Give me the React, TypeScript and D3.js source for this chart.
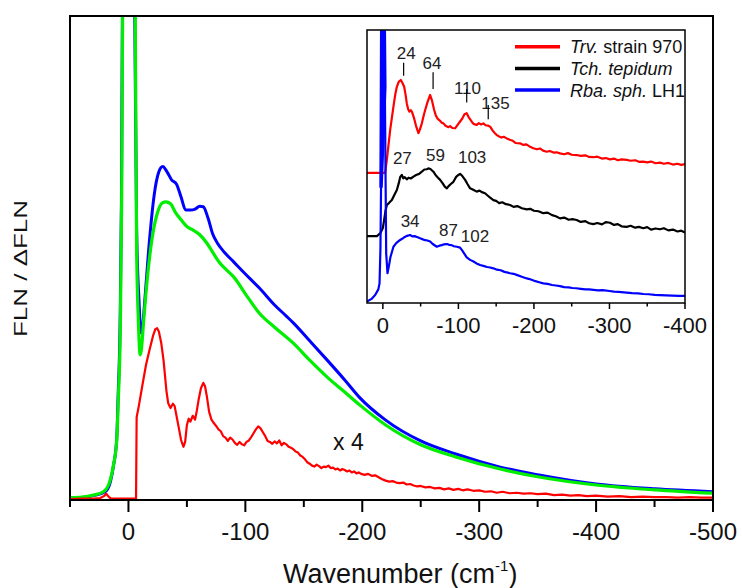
import React from "react";
import * as d3 from "d3";

type P = [number, number];

// ---------- main panel data (wavenumber, intensity in arbitrary units 0..100) ----------
const greenMain: P[] = [
  [50, 0.5], [40, 0.6], [30, 1.0], [21.5, 1.7], [17, 3.1], [13, 7.0], [10, 12.4], [8.7, 20.7], [7, 35], [5.8, 62], [5, 100], [3, 150], [0, 200],
  [-3, 160], [-4.8, 120], [-5.8, 100], [-7, 51.6], [-8.5, 37], [-10, 30], [-11, 31], [-13, 37], [-16, 45.5], [-20, 53.7], [-25, 59.5],
  [-29, 61.4], [-32, 61.6], [-36, 61.2], [-40, 59.5], [-45, 57.9], [-50, 56.5], [-55, 55.8], [-61, 54.8], [-67, 53.1], [-72, 51.2],
  [-78, 49], [-84, 47.5], [-90, 46.1], [-100, 42.6], [-112, 38.6], [-125, 35.7], [-141, 32.4], [-155, 28.9], [-170, 25.4], [-185, 22.3],
  [-198, 19.6], [-220, 15.5], [-250, 11.4], [-280, 8.9], [-318, 6.4], [-350, 4.8], [-400, 3.1], [-450, 2.1], [-500, 1.4],
];

const blueMain: P[] = [
  [50, 0.4], [40, 0.5], [30, 0.9], [20, 1.7], [16, 3.3], [13, 6.8], [10, 12.8], [8.9, 21], [7.2, 36], [6, 62], [5.2, 100], [3, 150], [0, 200],
  [-3, 160], [-4.5, 120], [-5.4, 100], [-7, 55.8], [-9, 41.3], [-10.8, 34.5], [-12, 35.5], [-14, 41.3], [-18, 53.7], [-22, 63], [-26, 67.8],
  [-29.3, 68.9], [-33, 67.8], [-37, 66.1], [-41, 65.3], [-45, 62.6], [-49, 59.9], [-53, 59.9], [-57, 60.1], [-61, 60.7], [-64, 60.6],
  [-68, 58.3], [-72, 55], [-76, 53.1], [-82, 51.2], [-90, 49.2], [-100, 46.7], [-112, 43.8], [-125, 40.3], [-135, 38], [-141, 36.6],
  [-155, 32.9], [-170, 28.9], [-185, 24.8], [-198, 21.1], [-220, 16.5], [-250, 12.2], [-280, 9.5], [-318, 6.8], [-350, 5.2], [-400, 3.3],
  [-450, 2.3], [-500, 1.7],
];

const redMain: P[] = [
  [50, 0.2], [40, 0.3], [30, 0.3], [24, 0.4], [21, 0.8], [19, 1.3], [17, 0.7], [15, 0.3], [5, 0.3], [-6.5, 0.3], [-7, 17.1], [-9, 19.6],
  [-12, 23.8], [-15, 27.9], [-18, 31], [-21, 33.9], [-23, 35.3], [-24.5, 35.5], [-26, 34.8], [-28, 32.5], [-30, 28.9], [-32.5, 22.5],
  [-34, 20], [-36, 19], [-38, 19.9], [-39.5, 19.4], [-41, 17.5], [-43, 15], [-45, 12.4], [-47, 11], [-48.5, 12], [-50, 15.5], [-51.5, 16.8],
  [-53, 16.2], [-55, 17.4], [-57, 16.6], [-58.5, 18.5], [-60, 20.7], [-62, 23.1], [-64, 24.2], [-65.5, 23.5], [-67, 21.5], [-69, 18.2],
  [-71, 16.6], [-73, 15.9], [-75, 15.3], [-77, 14.6], [-79, 14.2], [-81, 13.2], [-83, 12.9], [-85, 12.2], [-87, 12.9], [-89, 12.5],
  [-91, 11.8], [-93, 11.4], [-95, 12.0], [-97, 11.5], [-99, 11.3], [-101, 12.0], [-103, 12.3], [-105, 13.0], [-107, 13.8], [-109, 14.6],
  [-111, 15.2], [-113, 14.8], [-115, 14.0], [-117, 13.2], [-119, 12.2], [-121, 12.0], [-123, 11.6], [-125, 12.1], [-127, 11.7],
  [-129, 12.3], [-131, 11.3], [-133, 11.8], [-135, 11.5], [-137, 11.0], [-139, 10.8], [-141, 10.5], [-143, 10.0], [-145, 9.8],
  [-147, 9.2], [-149, 8.9], [-151, 8.4], [-153, 7.8], [-155, 7.5], [-157, 7.1], [-159, 6.9], [-161, 7.3], [-163, 7.0], [-165, 6.6],
  [-167, 6.9], [-169, 6.8], [-171, 7.1], [-173, 6.6], [-175, 6.7], [-177, 6.3], [-179, 6.5], [-181, 6.1], [-183, 6.4], [-185, 6.2],
  [-187, 5.9], [-189, 6.1], [-191, 5.7], [-193, 5.9], [-195, 5.5], [-197, 5.7], [-199, 5.4], [-202, 5.2], [-205, 5.4], [-208, 5.0],
  [-211, 5.1], [-214, 4.7], [-217, 4.3], [-220, 4.0], [-223, 3.8], [-226, 3.9], [-229, 3.6], [-232, 3.5], [-235, 3.6], [-238, 3.2],
  [-241, 3.3], [-244, 3.0], [-247, 2.8], [-250, 2.9], [-254, 2.6], [-258, 2.7], [-262, 2.4], [-266, 2.5], [-270, 2.2], [-274, 2.4],
  [-278, 2.1], [-282, 2.3], [-286, 2.0], [-290, 2.2], [-295, 1.9], [-300, 2.0], [-305, 1.7], [-310, 1.8], [-315, 1.5], [-320, 1.7],
  [-326, 1.4], [-332, 1.5], [-338, 1.3], [-344, 1.4], [-350, 1.2], [-357, 1.3], [-364, 1.0], [-371, 1.1], [-378, 0.9], [-385, 1.0],
  [-392, 0.8], [-400, 0.9], [-410, 0.7], [-420, 0.8], [-430, 0.6], [-440, 0.7], [-450, 0.6], [-460, 0.6], [-470, 0.5], [-480, 0.6],
  [-490, 0.5], [-500, 0.5],
];

const mainMajorTicks = [0, -100, -200, -300, -400, -500];
const mainMinorTicks = [50, -50, -150, -250, -350, -450];

// ---------- inset data ----------
const redInset: P[] = [
  [21, 47.7], [10, 47.7], [0, 47.7], [-3, 47.7], [-5.3, 52.4], [-7.5, 58], [-9.7, 63.4], [-12, 68], [-14, 71.9], [-16.5, 76.5],
  [-18.5, 79.2], [-21, 81], [-23.8, 81.7], [-26, 80.6], [-28.2, 79.2], [-30, 76.4], [-31.7, 73.1], [-33.5, 71], [-35.2, 70.1],
  [-37, 70.6], [-38.4, 70.1], [-40, 68.8], [-41.4, 67.6], [-44, 64.8], [-47.1, 62.2], [-49, 63.5], [-51.6, 65.8], [-54, 68.6],
  [-56, 70.7], [-59, 73.5], [-62.6, 76.2], [-65, 74.2], [-67.9, 70.7], [-70, 68.8], [-72.3, 67.6], [-75, 66.9], [-78, 66.0],
  [-80.2, 65.8], [-83, 64.9], [-86.8, 64.4], [-89, 64.8], [-92, 64.1], [-95.6, 64], [-98, 64.9], [-102, 66.4], [-105, 67.5],
  [-108, 69.1], [-111, 69.5], [-114, 67.9], [-117.7, 66.4], [-120, 65.6], [-124.3, 65.2], [-127, 65.9], [-130, 65.4], [-133, 65.8],
  [-136, 65.1], [-139, 65.0], [-142, 64.6], [-145, 63.3], [-148, 62.3], [-150.8, 61.5], [-154, 61.0], [-157, 60.6], [-160, 60.9],
  [-164, 60.3], [-168, 59.8], [-172, 59.4], [-176, 58.6], [-181.6, 58.5], [-186, 57.9], [-190, 58.1], [-195, 57.2], [-199.2, 56.7],
  [-204, 56.3], [-208, 56.6], [-212, 55.8], [-216.9, 55.4], [-221, 55.7], [-226, 55.1], [-230, 55.2], [-234.5, 54.8], [-240, 54.5],
  [-245, 54.9], [-250, 54.3], [-256.6, 54.2], [-262, 53.9], [-268, 54.1], [-273, 53.5], [-278.6, 53.4], [-284, 53.6], [-290, 52.9],
  [-295, 53.1], [-300.7, 52.6], [-306, 52.9], [-311, 52.3], [-316, 52.6], [-322.8, 52.4], [-328, 52.1], [-334, 52.3], [-339, 51.7],
  [-344.7, 51.8], [-350, 51.5], [-355, 51.8], [-361, 51.2], [-366.8, 51.4], [-372, 51.0], [-378, 51.3], [-384, 50.7], [-390, 51.0],
  [-395, 50.6], [-400, 50.9],
];

const blackInset: P[] = [
  [21, 24.5], [12, 24.5], [7.9, 24.5], [3.6, 25.5], [0, 27.5], [-1.7, 30.4], [-3.5, 33.8], [-5.3, 35.9], [-8, 36.6], [-11.9, 37.7],
  [-15, 39.5], [-18.5, 41.4], [-21, 43.8], [-23, 46.2], [-25.1, 46.9], [-27, 45.7], [-29, 46.1], [-31.7, 45.3], [-34, 45.9],
  [-37, 45.6], [-40.5, 46.3], [-44, 46.9], [-48, 47.3], [-51.6, 48.1], [-55, 48.9], [-58, 49.0], [-60.3, 49.3], [-63, 49.1],
  [-66.9, 48.1], [-70, 46.8], [-73, 45.9], [-75.8, 45.1], [-79, 43.9], [-82, 42.6], [-84.7, 42], [-87, 42.8], [-90, 43.6],
  [-93.4, 44.4], [-97, 46.2], [-100, 46.9], [-102.2, 47.3], [-105, 46.6], [-108.9, 45.1], [-112, 43.6], [-115.5, 42], [-119, 41.6],
  [-124.3, 40.8], [-128, 41.2], [-131, 40.6], [-135.3, 40.2], [-139, 39.3], [-142, 38.6], [-146.3, 37.7], [-150, 37.4], [-154, 36.6],
  [-158, 36.9], [-163, 36.2], [-168.4, 35.9], [-173, 35.2], [-178, 35.5], [-184, 34.7], [-190.5, 34.3], [-195, 34.5], [-200, 33.8],
  [-206, 33.6], [-212.4, 32.9], [-218, 33.1], [-224, 32.2], [-229, 31.8], [-234.5, 31], [-240, 31.3], [-246, 30.5], [-251, 30.7],
  [-256.6, 30.4], [-262, 29.7], [-268, 30.0], [-273, 29.2], [-278.6, 28.9], [-284, 29.3], [-290, 28.8], [-295, 29.6], [-300.7, 29.4],
  [-306, 28.6], [-311, 28.9], [-316, 28.1], [-322.8, 27.9], [-328, 28.3], [-334, 27.6], [-339, 27.9], [-344.7, 27.4], [-350, 27.8],
  [-355, 26.9], [-361, 27.3], [-366.8, 27], [-372, 27.4], [-378, 26.6], [-384, 26.9], [-390, 26.2], [-395, 26.5], [-400, 25.8],
];

const blueInset: P[] = [
  [21, 0.5], [15, 1.5], [10.2, 2.9], [6, 5], [4.4, 7.2], [3.2, 20], [2.4, 42.6], [1.2, 120], [0, 150], [-1.2, 120], [-2.6, 79.2],
  [-4.4, 18.2], [-6.1, 10.9], [-8, 13.5], [-10, 16.8], [-14, 20.6], [-18, 22], [-22.9, 23.1], [-26, 23.6], [-29, 24.2], [-32, 24.6],
  [-36.1, 24.9], [-39, 24.4], [-42, 24.5], [-46, 24.1], [-49.3, 23.7], [-53, 23.3], [-56, 23], [-59, 22.9], [-62.6, 22.5],
  [-66, 21.6], [-71.4, 20.6], [-75, 21.0], [-78, 21.2], [-81, 21.5], [-84.7, 21.6], [-88, 21.3], [-91, 21.2], [-94, 20.8],
  [-97.9, 20.6], [-102.2, 20.3], [-105, 19.3], [-108, 18], [-111, 16.7], [-115.5, 15.8], [-120, 15.2], [-124, 14.5], [-128.7, 13.9],
  [-133, 13.6], [-138, 13.2], [-142, 13.0], [-146.3, 12.7], [-151, 12.2], [-156, 12.0], [-161, 11.4], [-168.4, 10.9], [-173, 10.7],
  [-178, 10.2], [-184, 9.6], [-190.5, 9], [-196, 8.6], [-202, 8.0], [-207, 7.6], [-212.4, 7.2], [-218, 7.0], [-224, 6.6],
  [-229, 6.4], [-234.5, 6.2], [-240, 5.8], [-246, 5.7], [-251, 5.5], [-256, 5.4], [-262, 5.2], [-268, 5.0], [-273, 5.0],
  [-278.6, 4.8], [-285, 4.6], [-291, 4.7], [-300, 4.4], [-306, 4.2], [-312, 4.1], [-322.8, 3.8], [-330, 3.6], [-338, 3.5],
  [-345, 3.3], [-352, 3.2], [-360, 3.0], [-366.8, 2.9], [-375, 2.8], [-383, 2.7], [-392, 2.6], [-400, 2.6],
];

const insetMajorTicks = [0, -100, -200, -300, -400];
const insetMinorTicks = [-50, -150, -250, -350];

// peak annotations in the inset: [label, wavenumber, value of the label centre]
const redPeakLabels: [string, number, number][] = [
  ["24", -31, 91.6], ["64", -65, 87.9], ["110", -112, 78.8], ["135", -149, 73.3],
];
// [wavenumber, tick top, tick bottom]
const redPeakTicks: [number, number, number][] = [
  [-27.5, 88, 83.2], [-66.5, 84.5, 78.4], [-111, 78.4, 73.4], [-139.5, 72.5, 67.3],
];
const blackPeakLabels: [string, number, number][] = [["27", -25.8, 53], ["59", -69.8, 54.2], ["103", -118.2, 53.6]];
const bluePeakLabels: [string, number, number][] = [["34", -36.1, 30.2], ["87", -86.8, 26.9], ["102", -122, 24.7]];

const legendItems = [
  { color: "#ff0000", italic: "Trv.", rest: " strain 970" },
  { color: "#000000", italic: "Tch. tepidum", rest: "" },
  { color: "#0000ff", italic: "Rba. sph.", rest: " LH1" },
];

const FONT = "'Liberation Sans', Arial, Helvetica, sans-serif";

export default function App() {
  const W = 742, H = 588;
  const L = 70, R = 713, T = 16, B = 500;
  const x = d3.scaleLinear().domain([50, -500]).range([L, R]);
  const y = d3.scaleLinear().domain([0, 100]).range([B, T]);

  const iL = 367, iR = 685, iT = 30, iB = 303;
  const xi = d3.scaleLinear().domain([21, -400]).range([iL, iR]);
  const yi = d3.scaleLinear().domain([0, 100]).range([iB, iT]);

  const lineMainSmooth = d3.line<P>().x(d => x(d[0])).y(d => y(d[1])).curve(d3.curveMonotoneX);
  const lineMain = d3.line<P>().x(d => x(d[0])).y(d => y(d[1]));
  const lineInset = d3.line<P>().x(d => xi(d[0])).y(d => yi(d[1]));
  const spike = blueInset.filter(d => d[0] < 3 && d[0] > -3);

  return (
    <svg width={W} height={H} viewBox={`0 0 ${W} ${H}`}
      style={{ position: "absolute", left: 0, top: 0, background: "#fff" }} fontFamily={FONT}>
      <defs>
        <clipPath id="mainClip"><rect x={L} y={T} width={R - L} height={B - T} /></clipPath>
        <clipPath id="insetClip"><rect x={iL} y={iT} width={iR - iL} height={iB - iT} /></clipPath>
      </defs>
      <rect x={0} y={0} width={W} height={H} fill="#fff" />

      {/* main curves */}
      <g clipPath="url(#mainClip)" fill="none" strokeLinejoin="round">
        <path d={lineMainSmooth(blueMain) || ""} stroke="#0000ff" strokeWidth={3} />
        <path d={lineMainSmooth(greenMain) || ""} stroke="#00ee00" strokeWidth={3.2} />
        <path d={lineMain(redMain) || ""} stroke="#ff0000" strokeWidth={2.2} />
      </g>

      {/* main frame */}
      <rect x={L} y={T} width={R - L} height={B - T} fill="none" stroke="#000" strokeWidth={2} />
      {mainMajorTicks.map(t => (
        <g key={"M" + t}>
          <line x1={x(t)} x2={x(t)} y1={B} y2={B + 12} stroke="#000" strokeWidth={2} />
          <text x={x(t)} y={540} textAnchor="middle" fontSize={24} fill="#111">{t}</text>
        </g>
      ))}
      {mainMinorTicks.map(t => (
        <line key={"m" + t} x1={x(t)} x2={x(t)} y1={B} y2={B + 7} stroke="#000" strokeWidth={2} />
      ))}
      <text x={283} y={583} fontSize={27} fill="#111">
        Wavenumber (cm<tspan dy={-12} fontSize={15}>-1</tspan><tspan dy={12}>)</tspan>
      </text>
      <text transform={`translate(27,268.5) rotate(-90)`} textAnchor="middle" fontSize={18} fill="#111"
        textLength={137} lengthAdjust="spacingAndGlyphs">FLN / ΔFLN</text>
      <text x={333} y={450} fontSize={23} fill="#111">x 4</text>

      {/* inset */}
      <rect x={iL} y={iT} width={iR - iL} height={iB - iT} fill="#fff" />
      <g clipPath="url(#insetClip)" strokeLinejoin="round">
        <path d={lineInset(redInset) || ""} fill="none" stroke="#ff0000" strokeWidth={2.2} />
        <path d={lineInset(blackInset) || ""} fill="none" stroke="#000" strokeWidth={2.2} />
        <path d={lineInset(blueInset) || ""} fill="none" stroke="#0000ff" strokeWidth={2.2} />
        <path d={(lineInset(spike) || "") + "Z"} fill="#0000ff" stroke="#0000ff" strokeWidth={3.5} />
      </g>
      <rect x={iL} y={iT} width={iR - iL} height={iB - iT} fill="none" stroke="#000" strokeWidth={1.5} />
      {insetMajorTicks.map(t => (
        <g key={"I" + t}>
          <line x1={xi(t)} x2={xi(t)} y1={iB} y2={iB + 6} stroke="#000" strokeWidth={1.5} />
          <text x={xi(t)} y={333} textAnchor="middle" fontSize={22} fill="#111">{t}</text>
        </g>
      ))}
      {insetMinorTicks.map(t => (
        <line key={"i" + t} x1={xi(t)} x2={xi(t)} y1={iB} y2={iB + 3.5} stroke="#000" strokeWidth={1.5} />
      ))}

      {/* peak annotations */}
      <g fontSize={17} fill="#222" textAnchor="middle">
        {[...redPeakLabels, ...blackPeakLabels, ...bluePeakLabels].map(([lab, w, v], i) => (
          <text key={"pl" + i} x={xi(w)} y={yi(v) + 6}>{lab}</text>
        ))}
      </g>
      {redPeakTicks.map(([w, v1, v2]) => (
        <line key={"rt" + w} x1={xi(w)} x2={xi(w)} y1={yi(v1)} y2={yi(v2)} stroke="#000" strokeWidth={1.2} />
      ))}

      {/* legend */}
      {legendItems.map((it, i) => {
        const cy = 46.7 + i * 21.7;
        return (
          <g key={it.italic}>
            <line x1={515} x2={560} y1={cy} y2={cy} stroke={it.color} strokeWidth={3.5} />
            <text x={570} y={cy + 6.5} fontSize={18} fill="#111">
              <tspan fontStyle="italic">{it.italic}</tspan>{it.rest}
            </text>
          </g>
        );
      })}
    </svg>
  );
}
